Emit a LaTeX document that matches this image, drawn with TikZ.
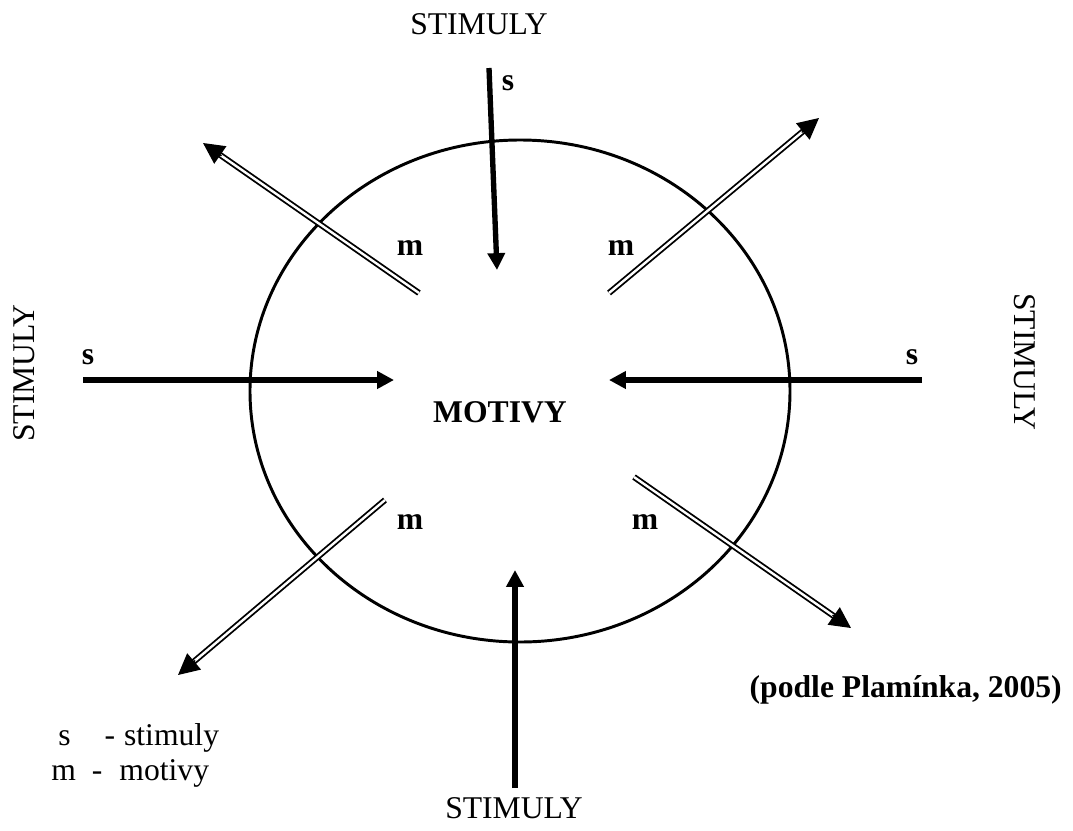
\documentclass[tikz,border=0pt]{standalone}
\usepackage{fontspec}
\setmainfont{Liberation Serif}
\usepackage{tikz}
\usetikzlibrary{arrows.meta, calc, positioning}

\begin{document}
\begin{tikzpicture}[
    x=0.025cm, y=-0.025cm,
    every node/.style={font=\fontsize{22.5}{26}\selectfont, inner sep=0pt},
    lbl/.style={font=\fontsize{22.5}{26}\selectfont\bfseries},
    ring/.style={draw, line width=2.1pt},
    sarrow/.style={line width=3.8pt, -{Triangle[length=12pt, width=12pt]}},
    mline/.style={double, line width=1.3pt, double distance=1.7pt, shorten >=13pt},
    mhead/.style={line width=1pt, -{Triangle[length=15pt, width=15pt]}}
]
\useasboundingbox (0,0) rectangle (1073,830);

% Central ellipse
\draw[ring] (520,391) ellipse [x radius=270, y radius=251];
\node[lbl] (motivy) at (500,412) {MOTIVY};

% Outer labels
\node (stTop) at (479,24) {STIMULY};
\node (stBottom) at (514,808) {STIMULY};
\node[rotate=90] (stLeft) at (24,373) {STIMULY};
\node[rotate=-90] (stRight) at (1025,362) {STIMULY};

% Stimuli arrows (s)
\coordinate (s1a) at (489,68);  \coordinate (s1b) at (497,270);
\coordinate (s2a) at (83,380);  \coordinate (s2b) at (394,380);
\coordinate (s3a) at (922,380); \coordinate (s3b) at (609,380);
\coordinate (s4a) at (515,788); \coordinate (s4b) at (515,570);
\draw[sarrow] (s1a) -- (s1b);
\draw[sarrow] (s2a) -- (s2b);
\draw[sarrow] (s3a) -- (s3b);
\draw[sarrow] (s4a) -- (s4b);
\node[lbl] (sTop) at (508,83) {s};
\node[lbl] (sLeft) at (88,357) {s};
\node[lbl] (sRight) at (912,357) {s};

% Motive arrows (m)
\coordinate (m1a) at (419,293); \coordinate (m1b) at (203,143);
\coordinate (m2a) at (609,293); \coordinate (m2b) at (819,118);
\coordinate (m3a) at (385,500); \coordinate (m3b) at (178,675);
\coordinate (m4a) at (634,477); \coordinate (m4b) at (851,628);
\draw[mline] (m1a) -- (m1b);
\draw[mhead] ($(m1b)!16pt!(m1a)$) -- (m1b);
\draw[mline] (m2a) -- (m2b);
\draw[mhead] ($(m2b)!16pt!(m2a)$) -- (m2b);
\draw[mline] (m3a) -- (m3b);
\draw[mhead] ($(m3b)!16pt!(m3a)$) -- (m3b);
\draw[mline] (m4a) -- (m4b);
\draw[mhead] ($(m4b)!16pt!(m4a)$) -- (m4b);
\node[lbl] (mTL) at (410,248) {m};
\node[lbl] (mTR) at (621,248) {m};
\node[lbl] (mBL) at (410,522) {m};
\node[lbl] (mBR) at (645,522) {m};

% Source and legend
\node[lbl, anchor=east] (source) at (1062,690) {(podle Plamínka, 2005)};
\node[anchor=base west] (legS) at (58,745) {s\hspace{0.85cm}-\hspace{0.225cm}stimuly};
\node[anchor=base west] (legM) at (51,780) {m\hspace{0.4cm}-\hspace{0.425cm}motivy};
\end{tikzpicture}
\end{document}
